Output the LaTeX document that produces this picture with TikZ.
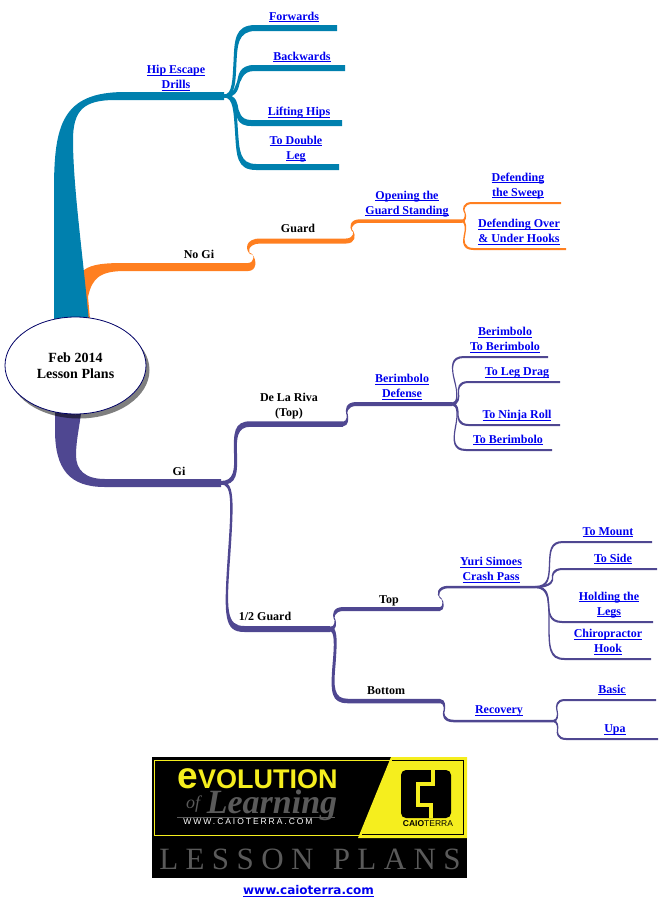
\documentclass[tikz,border=0pt]{standalone}
\usepackage{fontspec}
\setmainfont{Liberation Serif}
\newfontfamily\sansfam{Liberation Sans}
\newfontfamily\urlfam{DejaVu Sans}
\usetikzlibrary{calc,shapes.geometric}
\definecolor{tealbr}{HTML}{0080AE}
\definecolor{orangebr}{HTML}{FF7F20}
\definecolor{purplebr}{HTML}{4F4791}
\definecolor{linkblue}{HTML}{0000EE}
\definecolor{logoyellow}{HTML}{F5EE1E}
\definecolor{logogray}{HTML}{5A5A5A}
\tikzset{
  plainlabel/.style={font=\bfseries\fontsize{12}{15}\selectfont,align=center,inner sep=0pt,text=black},
  linklabel/.style={font=\bfseries\fontsize{12}{15}\selectfont,align=center,inner sep=0pt,text=linkblue},
  rootnode/.style={ellipse,draw=blue!40!black,fill=white,line width=0.8pt,minimum width=141pt,minimum height=97pt,inner sep=0pt,align=center,font=\bfseries\fontsize{14}{16}\selectfont},
}
\newcommand{\ul}[1]{\setbox0=\hbox{#1}\rlap{\rule[-1.7pt]{\wd0}{0.8pt}}\box0 }
% #1 colour, #2 from, #3 to, #4 first vertical x, #5 second vertical x, #6 corner size, #7 start width, #8 vertical width, #9 end width
\newcommand{\branch}[9]{%
  \pgfpointanchor{#2}{center}\pgfgetlastxy{\bxo}{\byo}%
  \pgfpointanchor{#3}{center}\pgfgetlastxy{\bxe}{\bye}%
  \pgfmathsetmacro{\Xo}{\bxo}\pgfmathsetmacro{\Yo}{\byo}%
  \pgfmathsetmacro{\Xe}{\bxe}\pgfmathsetmacro{\Ye}{\bye}%
  \pgfmathsetmacro{\Sg}{\Ye>\Yo?1:-1}%
  \pgfmathsetmacro{\Hv}{\Sg*#8/2}%
  \pgfmathsetmacro{\Ho}{#7/2}\pgfmathsetmacro{\He}{#9/2}%
  \pgfmathsetmacro{\Xk}{#5+1.3*#6}%
  \pgfmathsetmacro{\Ym}{(\Yo+\Ye)/2}%
  \pgfmathsetmacro{\Rr}{\Sg*#6}%
  \pgfmathsetmacro{\Xau}{#4-\Hv}\pgfmathsetmacro{\Xbu}{#5-\Hv}%
  \pgfmathsetmacro{\Xal}{#4+\Hv}\pgfmathsetmacro{\Xbl}{#5+\Hv}%
  \pgfmathsetmacro{\Xmu}{(\Xau+\Xbu)/2}\pgfmathsetmacro{\Xml}{(\Xal+\Xbl)/2}%
  \pgfmathsetmacro{\You}{\Yo+\Ho}\pgfmathsetmacro{\Yol}{\Yo-\Ho}%
  \pgfmathsetmacro{\Yeu}{\Ye+\He}\pgfmathsetmacro{\Yel}{\Ye-\He}%
  \pgfmathsetmacro{\Ya}{\You+\Rr}\pgfmathsetmacro{\Yb}{\Yeu-\Rr}%
  \pgfmathsetmacro{\Yc}{\Yel-\Rr}\pgfmathsetmacro{\Yd}{\Yol+\Rr}%
  \fill[#1] (\Xo pt,\You pt) .. controls (\Xau pt,\You pt) and (\Xau pt,\Ya pt) .. (\Xmu pt,\Ym pt)
     .. controls (\Xbu pt,\Yb pt) and (\Xbu pt,\Yeu pt) .. (\Xk pt,\Yeu pt)
     -- (\Xe pt,\Yeu pt) -- (\Xe pt,\Yel pt) -- (\Xk pt,\Yel pt)
     .. controls (\Xbl pt,\Yel pt) and (\Xbl pt,\Yc pt) .. (\Xml pt,\Ym pt)
     .. controls (\Xal pt,\Yd pt) and (\Xal pt,\Yol pt) .. (\Xo pt,\Yol pt) -- cycle;%
}
\begin{document}
\begin{tikzpicture}[x=1pt,y=-1pt]
\useasboundingbox (0,0) rectangle (662,906);
% junctions and ends
\coordinate (hipJ) at (224,96);
\coordinate (jForw) at (337,28);
\coordinate (jBack) at (345,68);
\coordinate (jLift) at (342,123);
\coordinate (jDoub) at (339,167);
\coordinate (nogiJ) at (248,267);
\coordinate (guardJ) at (346,241);
\coordinate (openJ) at (462,221);
\coordinate (jSweep) at (561,203);
\coordinate (jHooks) at (566,249);
\coordinate (giJ) at (221,483);
\coordinate (rivaJ) at (343,424);
\coordinate (halfJ) at (330,629);
\coordinate (bdefJ) at (452,404);
\coordinate (jBB) at (548,357);
\coordinate (jDrag) at (560,382);
\coordinate (jNinja) at (560,425);
\coordinate (jToB) at (552,450);
\coordinate (topJ) at (440,609);
\coordinate (botJ) at (440,701);
\coordinate (yuriJ) at (535,587);
\coordinate (recJ) at (553,721);
\coordinate (jMount) at (652,542);
\coordinate (jSide) at (657,569);
\coordinate (jHold) at (653,622);
\coordinate (jChiro) at (651,659);
\coordinate (jBasic) at (656,700);
\coordinate (jUpa) at (658,739);
% trunks
\fill[orangebr] (84,270) .. controls (92,264) and (105,263) .. (125,263) -- (nogiJ |- 0,263) -- (nogiJ |- 0,271) -- (125,271)
   .. controls (100,271) and (92,278) .. (88,297) -- (91,330) -- (85,330) -- cycle;
\fill[tealbr] (54,335) -- (54,190) .. controls (54,125) and (62,92) .. (125,92) -- (hipJ |- 0,92) -- (hipJ |- 0,100) -- (115,100)
   .. controls (84,100) and (73,110) .. (73,140) .. controls (73,190) and (85,270) .. (90,335) -- cycle;
\fill[purplebr] (55,400) -- (55,430) .. controls (55,470) and (70,487) .. (105,487) -- (giJ |- 0,487) -- (giJ |- 0,479) -- (105,479)
   .. controls (85,479) and (76,470) .. (76,455) .. controls (76,440) and (80,425) .. (82,405) -- cycle;
% branches
\branch{tealbr}{hipJ}{jForw}{234}{236}{15}{3}{3}{6}
\branch{tealbr}{hipJ}{jBack}{237}{240}{11}{3}{3}{6}
\branch{tealbr}{hipJ}{jLift}{236}{238}{10}{3}{3}{6}
\branch{tealbr}{hipJ}{jDoub}{235}{238}{14}{3}{3}{6}
\branch{orangebr}{nogiJ}{guardJ}{256}{246}{11}{8}{2}{5}
\branch{orangebr}{guardJ}{openJ}{355}{350}{8}{5}{1.5}{3.5}
\branch{orangebr}{openJ}{jSweep}{466}{463}{7}{2.5}{1.5}{2}
\branch{orangebr}{openJ}{jHooks}{466}{463}{8}{2.5}{1.5}{2}
\branch{purplebr}{giJ}{rivaJ}{236}{235}{12}{4}{3}{5.5}
\branch{purplebr}{giJ}{halfJ}{233}{225}{15}{3}{2.5}{6}
\branch{purplebr}{rivaJ}{bdefJ}{348}{346}{8}{4.5}{1.5}{4}
\branch{purplebr}{bdefJ}{jBB}{458}{451}{10}{2.5}{1.3}{2}
\branch{purplebr}{bdefJ}{jDrag}{459}{458}{8}{2.5}{1.3}{2}
\branch{purplebr}{bdefJ}{jNinja}{458}{458}{8}{2.5}{1.3}{2}
\branch{purplebr}{bdefJ}{jToB}{458}{453}{10}{2.5}{1.3}{2}
\branch{purplebr}{halfJ}{topJ}{336}{333}{8}{4}{1.5}{4}
\branch{purplebr}{halfJ}{botJ}{336}{332}{12}{5}{3}{4.5}
\branch{purplebr}{topJ}{yuriJ}{444}{437}{9}{3.5}{1.5}{2.5}
\branch{purplebr}{botJ}{recJ}{445}{443}{8}{4}{1.5}{2.5}
\branch{purplebr}{yuriJ}{jMount}{549}{550}{10}{2}{1.3}{2}
\branch{purplebr}{yuriJ}{jSide}{553}{552}{8}{2}{1.3}{2}
\branch{purplebr}{yuriJ}{jHold}{548}{549}{10}{2}{1.3}{2}
\branch{purplebr}{yuriJ}{jChiro}{549}{549}{12}{2}{1.3}{2}
\branch{purplebr}{recJ}{jBasic}{558}{556}{7}{2}{1.3}{2}
\branch{purplebr}{recJ}{jUpa}{558}{557}{7}{2}{1.3}{2}
% root
\fill[black,opacity=.5] (79,370) ellipse [x radius=70.5,y radius=48.5];
\node[rootnode] (root) at (75.5,365.5) {Feb 2014\\Lesson Plans};
% labels
\node[linklabel] (lHip) at (176,78) {\ul{Hip Escape}\\\ul{Drills}};
\node[linklabel] (lForw) at (294,17) {\ul{Forwards}};
\node[linklabel] (lBack) at (302,57) {\ul{Backwards}};
\node[linklabel] (lLift) at (299,113) {\ul{Lifting Hips}};
\node[linklabel] (lDoub) at (296,149) {\ul{To Double}\\\ul{Leg}};
\node[plainlabel] (lNogi) at (199,254) {No Gi};
\node[plainlabel] (lGuard) at (298,228) {Guard};
\node[linklabel] (lOpen) at (407,204) {\ul{Opening the}\\\ul{Guard Standing}};
\node[linklabel] (lSweep) at (518,186) {\ul{Defending}\\\ul{the Sweep}};
\node[linklabel] (lHooks) at (519,232) {\ul{Defending Over}\\\ul{\& Under Hooks}};
\node[linklabel] (lBB) at (505,340) {\ul{Berimbolo}\\\ul{To Berimbolo}};
\node[linklabel] (lDrag) at (517,373) {\ul{To Leg Drag}};
\node[linklabel] (lNinja) at (517,416) {\ul{To Ninja Roll}};
\node[linklabel] (lToB) at (508,440) {\ul{To Berimbolo}};
\node[linklabel] (lBdef) at (402,387) {\ul{Berimbolo}\\\ul{Defense}};
\node[plainlabel] (lRiva) at (289,406) {De La Riva\\(Top)};
\node[plainlabel] (lGi) at (179,471) {Gi};
\node[plainlabel] (lHalf) at (265,616) {1/2 Guard};
\node[plainlabel] (lTop) at (389,601) {Top};
\node[plainlabel] (lBot) at (386,691) {Bottom};
\node[linklabel] (lYuri) at (491,570) {\ul{Yuri Simoes}\\\ul{Crash Pass}};
\node[linklabel] (lMount) at (608,532) {\ul{To Mount}};
\node[linklabel] (lSide) at (613,559) {\ul{To Side}};
\node[linklabel] (lHold) at (609,605) {\ul{Holding the}\\\ul{Legs}};
\node[linklabel] (lChiro) at (608,642) {\ul{Chiropractor}\\\ul{Hook}};
\node[linklabel] (lBasic) at (612,690) {\ul{Basic}};
\node[linklabel] (lUpa) at (615,730) {\ul{Upa}};
\node[linklabel] (lRec) at (499,711) {\ul{Recovery}};
% logo
\fill[black] (152,757) rectangle (467,878);
\draw[logoyellow,line width=1pt] (154,760) rectangle (465,835);
\fill[logoyellow] (391,757) -- (467,757) -- (467,838) -- (358,838) -- cycle;
\draw[black,line width=.8pt] (392,760) -- (463,760) -- (463,834) -- (362,834);
\fill[black,rounded corners=5pt] (401,770) rectangle (451,818);
\draw[logoyellow,line width=3.5pt] (433,770) -- (433,784) -- (418,784) -- (418,805) -- (431,805) -- (431,818);
\node[font=\sansfam\fontsize{8.5}{8.5}\selectfont,inner sep=0pt,text=black] (lCaio) at (428,824) {\textbf{CAIO}TERRA};
\node[inner sep=0pt,text=logoyellow,anchor=base] (lEvol) at (257.5,788) {\sansfam\bfseries\fontsize{37}{37}\selectfont e\fontsize{27}{27}\selectfont VOLUTION};
\draw[logogray,line width=.8pt] (177,817) -- (335,817);
\node[font=\itshape\bfseries\fontsize{34}{34}\selectfont,inner sep=0pt,text=logogray,anchor=base] (lLearn) at (272,813) {Learning};
\node[font=\itshape\fontsize{18}{18}\selectfont,inner sep=0pt,text=logogray,anchor=base] (lOf) at (193,808) {of};
\node[inner sep=0pt,text=white,anchor=center] (lWww) at (248,822) {\sansfam\fontsize{8.5}{8.5}\selectfont\addfontfeature{LetterSpace=23}WWW.CAIOTERRA.COM};
\node[inner sep=0pt,text=logogray,anchor=base] (lPlans) at (310,869) {\fontsize{31}{31}\selectfont\addfontfeature{LetterSpace=24}LESSON\ \hspace{4pt}PLANS};
\node[font=\urlfam\bfseries\fontsize{12}{12}\selectfont,inner sep=0pt,text=linkblue] (lUrl) at (308.5,891) {\ul{www.caioterra.com}};
\end{tikzpicture}
\end{document}
